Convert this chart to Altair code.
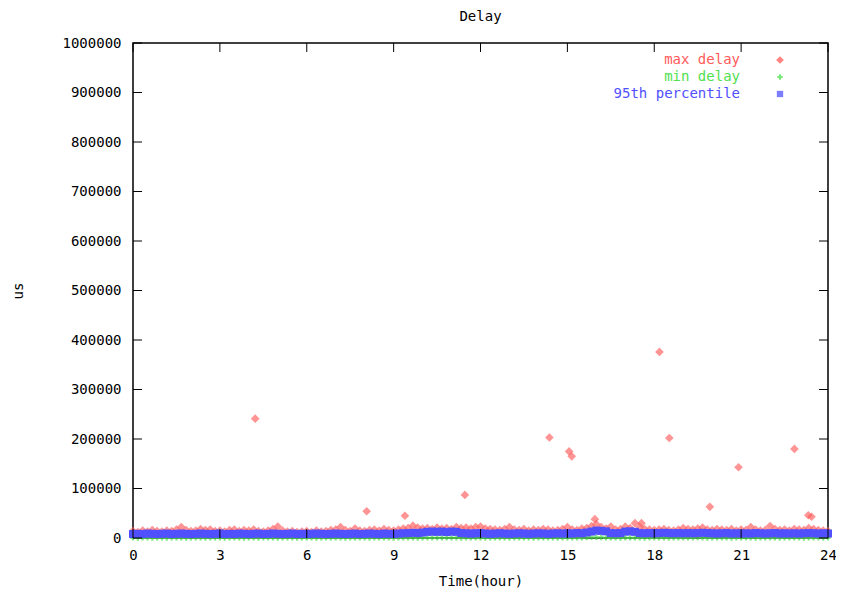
import altair as alt
import pandas as pd

# ---------------- data ----------------
# regular samples every 10 minutes, 0h .. 24h
max_delay = [
    14000, 12000, 15000, 13000, 16000, 14000,
    13000, 15000, 14000, 17000, 22000, 16000,
    14000, 15000, 18000, 16000, 17000, 14000,
    15000, 13000, 16000, 17000, 14000, 16000,
    15000, 17000, 14000, 13000, 15000, 18000,
    23000, 15000, 13000, 14000, 12000, 13000,
    14000, 12000, 15000, 13000, 14000, 16000,
    17000, 22000, 16000, 14000, 19000, 15000,
    14000, 16000, 17000, 15000, 18000, 16000,
    15000, 17000, 19000, 20000, 25000, 21000,
    19000, 20000, 18000, 21000, 19000, 20000,
    18000, 22000, 20000, 21000, 19000, 22000,
    23000, 19000, 18000, 17000, 16000, 18000,
    22000, 17000, 16000, 18000, 15000, 17000,
    16000, 18000, 17000, 15000, 16000, 18000,
    22000, 17000, 16000, 19000, 20000, 24000,
    28000, 22000, 19000, 23000, 17000, 18000,
    23000, 20000, 30000, 22000, 18000, 17000,
    16000, 17000, 18000, 16000, 15000, 17000,
    20000, 18000, 17000, 19000, 21000, 17000,
    16000, 18000, 17000, 16000, 18000, 15000,
    17000, 16000, 22000, 17000, 15000, 16000,
    24000, 18000, 16000, 17000, 15000, 18000,
    17000, 16000, 20000, 18000, 16000, 15000,
    14000,
]
min_delay = [
    300, 200, 300, 250, 200, 300,
    250, 200, 300, 300, 250, 200,
    300, 350, 250, 200, 300, 300,
    250, 200, 300, 250, 300, 200,
    300, 250, 200, 300, 250, 300,
    200, 300, 300, 250, 200, 300,
    250, 300, 200, 300, 250, 300,
    300, 250, 200, 300, 250, 300,
    250, 200, 300, 250, 300, 250,
    200, 300, 250, 300, 250, 200,
    300, 350, 300, 250, 400, 300,
    250, 300, 200, 300, 250, 300,
    250, 200, 300, 300, 250, 300,
    200, 300, 250, 300, 250, 200,
    300, 250, 300, 250, 200, 300,
    250, 300, 250, 300, 1200, 1400,
    1300, 1200, 300, 300, 250, 200,
    300, 250, 300, 250, 200, 300,
    250, 300, 250, 200, 300, 250,
    300, 250, 300, 1000, 250, 200,
    300, 250, 300, 250, 200, 300,
    250, 300, 250, 200, 300, 250,
    300, 250, 200, 300, 250, 300,
    250, 200, 300, 250, 300, 250,
    300,
]
p95_delay = [
    8000, 8500, 8000, 9000, 8500, 8000,
    8500, 9000, 8000, 8500, 9000, 8500,
    8000, 8500, 9000, 8500, 8000, 8500,
    9000, 8000, 8500, 8000, 9000, 8500,
    8000, 8500, 9000, 8000, 8500, 9000,
    8500, 8000, 8500, 9000, 8000, 8500,
    8000, 8500, 9000, 8500, 8000, 8500,
    9000, 8500, 8000, 8500, 9000, 8000,
    8500, 9000, 8500, 8000, 9000, 8500,
    8000, 9000, 9500, 10000, 10500, 10000,
    11000, 12500, 13000, 12500, 13000, 12000,
    13000, 12500, 10000, 9500, 9000, 9500,
    10000, 9000, 8500, 9000, 9500, 9000,
    8500, 9000, 9500, 9000, 8500, 9000,
    9500, 9000, 8500, 9000, 9500, 9000,
    9500, 9000, 10000, 9500, 11000, 13000,
    15000, 14500, 13500, 10000, 9500, 10000,
    13000, 13500, 12500, 10000, 9500, 10000,
    9500, 10000, 10500, 10000, 9500, 10000,
    9500, 10000, 9500, 10000, 10500, 10000,
    9500, 9000, 9500, 10000, 9000, 9500,
    9000, 9500, 9000, 10000, 9500, 9000,
    9500, 10000, 9000, 9500, 9000, 9500,
    9000, 9500, 10000, 9500, 9000, 9500,
    9000,
]
# isolated large max-delay spikes
spike_hours = [4.22, 8.07, 9.39, 11.46, 14.38, 15.06, 15.15, 15.95, 17.56,
               18.18, 18.52, 19.92, 20.91, 22.84, 23.32, 23.43]
spike_values = [241000, 54000, 45000, 87000, 203000, 175000, 165000, 38000, 30000,
                376000, 202000, 63000, 143000, 180000, 46000, 43000]

x_ticks = [0, 3, 6, 9, 12, 15, 18, 21, 24]
y_ticks = [0, 100000, 200000, 300000, 400000, 500000,
           600000, 700000, 800000, 900000, 1000000]

legend_labels = ["max delay", "min delay", "95th percentile"]
colors = ["#ff5a5a", "#4fe04f", "#5050ff"]
shapes = ["diamond", "cross", "square"]

# ---------------- layout ----------------
W, H = 695, 495
FONT = "DejaVu Sans Mono"
hours = [i / 6 for i in range(len(max_delay))]

xs = alt.Scale(domain=[0, 24], nice=False, zero=False)
ys = alt.Scale(domain=[0, 1000000], nice=False)

df_max = pd.DataFrame({"hour": hours + spike_hours, "us": max_delay + spike_values})
df_min = pd.DataFrame({"hour": hours, "us": min_delay})
df_p95 = pd.DataFrame({"hour": hours, "us": p95_delay})

x_enc = alt.X("hour:Q", scale=xs, axis=alt.Axis(
    values=x_ticks, ticks=False, domain=False, grid=False, labelPadding=10,
    labelFlush=False,
    labelFont=FONT, labelFontSize=14, labelColor="black",
    title="Time(hour)", titleFont=FONT, titleFontSize=14, titleFontWeight="normal",
    titleX=W / 2, titleY=43, titleBaseline="middle", titleColor="black"))
y_enc = alt.Y("us:Q", scale=ys, axis=alt.Axis(
    values=y_ticks, format="d", ticks=False, domain=False, grid=False, labelPadding=12,
    labelFlush=False,
    labelFont=FONT, labelFontSize=14, labelColor="black",
    title="us", titleFont=FONT, titleFontSize=14, titleFontWeight="normal",
    titleX=-115, titleY=H / 2, titleBaseline="middle", titleColor="black"))

pts_max = alt.Chart(df_max).mark_point(
    shape=shapes[0], filled=True, size=75, color=colors[0], opacity=0.65
).encode(x=x_enc, y=y_enc)
pts_min = alt.Chart(df_min).mark_point(
    shape=shapes[1], filled=True, size=30, color=colors[1]
).encode(x=alt.X("hour:Q", scale=xs), y=alt.Y("us:Q", scale=ys))
pts_p95 = alt.Chart(df_p95).mark_point(
    shape=shapes[2], filled=True, size=64, color=colors[2], opacity=1
).encode(x=alt.X("hour:Q", scale=xs), y=alt.Y("us:Q", scale=ys))

dfx = pd.DataFrame({"hour": x_ticks})
dfy = pd.DataFrame({"us": y_ticks})
TL = 9
tick_layers = [
    alt.Chart(dfx).mark_rule(color="black").encode(
        x=alt.X("hour:Q", scale=xs), y=alt.value(H), y2=alt.value(H - TL)),
    alt.Chart(dfx).mark_rule(color="black").encode(
        x=alt.X("hour:Q", scale=xs), y=alt.value(0), y2=alt.value(TL)),
    alt.Chart(dfy).mark_rule(color="black").encode(
        y=alt.Y("us:Q", scale=ys), x=alt.value(0), x2=alt.value(TL)),
    alt.Chart(dfy).mark_rule(color="black").encode(
        y=alt.Y("us:Q", scale=ys), x=alt.value(W), x2=alt.value(W - TL)),
]

legend_layers = []
for i, (lab, col, shp) in enumerate(zip(legend_labels, colors, shapes)):
    d = pd.DataFrame({"label": [lab]})
    yy = 17 + 17 * i
    legend_layers.append(alt.Chart(d).mark_text(
        align="right", baseline="middle", font=FONT, fontSize=14, color=col
    ).encode(text="label:N", x=alt.value(607), y=alt.value(yy)))
    legend_layers.append(alt.Chart(d).mark_point(
        shape=shp, filled=True, size={"diamond": 60, "cross": 30, "square": 40}[shp],
        color=col, opacity=0.75
    ).encode(x=alt.value(647), y=alt.value(yy)))

chart = alt.layer(
    pts_max, pts_min, pts_p95, *tick_layers, *legend_layers
).properties(
    width=W, height=H,
    title=alt.TitleParams("Delay", font=FONT, fontSize=14, fontWeight="normal",
                          color="black", anchor="middle", offset=12),
    padding={"left": 125, "top": 35, "right": 8, "bottom": 50},
    autosize=alt.AutoSizeParams(type="none"),
).configure_view(stroke="black", strokeWidth=1.5)

chart.save("out.html", embed_options={"renderer": "svg", "actions": False})
